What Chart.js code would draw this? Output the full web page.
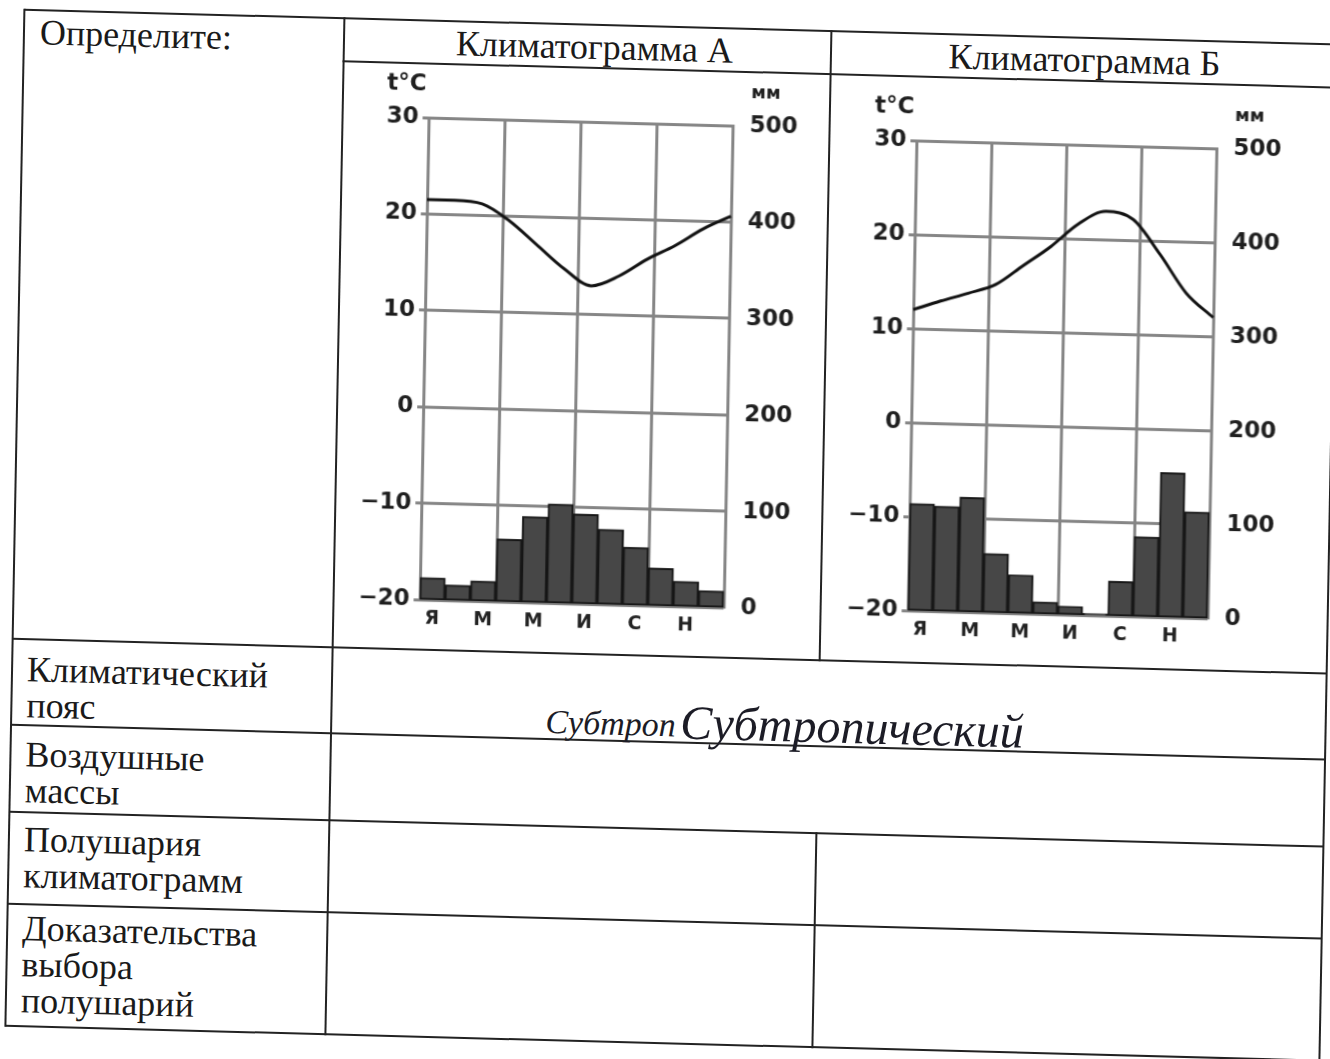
<!DOCTYPE html>
<html lang="ru">
<head>
<meta charset="utf-8">
<title>Климатограммы А и Б</title>
<script src="https://cdn.jsdelivr.net/npm/chart.js@4.4.1/dist/chart.umd.min.js"></script>
<style>
  html, body { margin: 0; padding: 0; background: #fff; }
  body { width: 1330px; height: 1059px; overflow: hidden; position: relative; }
  /* la feuille scannée est légèrement de travers */
  .feuille { position: absolute; left: 0; top: 0; width: 1330px; height: 1059px;
    transform: matrix(1, 0.0265, -0.0187, 1, 0, 0); transform-origin: 665px 530px;
    font-family: "Liberation Serif", "Times New Roman", serif; color: #1a1a1a; }
  .ligne-h { position: absolute; height: 2px; background: #222; }
  .ligne-v { position: absolute; width: 2px; background: #222; }
  .texte { position: absolute; font-size: 36px; line-height: 36px; white-space: nowrap; }
  .titre { position: absolute; font-size: 36px; line-height: 36px; text-align: center; white-space: nowrap; }
  .manuscrit { position: absolute; font-style: italic; white-space: nowrap; color: #1c1c26; line-height: 1; }
  canvas { position: absolute; }
</style>
</head>
<body>
<div class="feuille">
  <!-- cadre du tableau -->
  <div class="ligne-h" style="left:15px; top:26px; width:1314px;"></div>
  <div class="ligne-h" style="left:15px; top:1042px; width:1314px;"></div>
  <div class="ligne-v" style="left:14px; top:26px; height:1018px;"></div>
  <div class="ligne-v" style="left:1328px; top:26px; height:1018px;"></div>
  <div class="ligne-v" style="left:334px; top:26px; height:1018px;"></div>
  <div class="ligne-v" style="left:821px; top:26px; height:631px;"></div>
  <div class="ligne-v" style="left:821px; top:828px; height:216px;"></div>
  <div class="ligne-h" style="left:334px; top:69px; width:995px;"></div>
  <div class="ligne-h" style="left:15px; top:655px; width:1314px;"></div>
  <div class="ligne-h" style="left:15px; top:741px; width:1314px;"></div>
  <div class="ligne-h" style="left:15px; top:828px; width:1314px;"></div>
  <div class="ligne-h" style="left:15px; top:920px; width:1314px;"></div>

  <!-- textes imprimés -->
  <div class="texte" style="left:31px; top:31px;">Определите:</div>
  <div class="titre" style="left:349px; top:31px; width:473px;">Климатограмма А</div>
  <div class="titre" style="left:822px; top:31px; width:507px;">Климатограмма Б</div>
  <div class="texte" style="left:30px; top:668px;">Климатический<br>пояс</div>
  <div class="texte" style="left:30px; top:753px;">Воздушные<br>массы</div>
  <div class="texte" style="left:30px; top:838px;">Полушария<br>климатограмм</div>
  <div class="texte" style="left:30px; top:927px;">Доказательства<br>выбора<br>полушарий</div>

  <!-- réponse écrite à la main -->
  <div class="manuscrit" style="left:549px; top:708px; font-size:34px;">Субтроп</div>
  <div class="manuscrit" style="left:684px; top:698px; font-size:48px;">Субтропический</div>

  <canvas id="climatogramme-a" width="434" height="562" style="left:361px; top:74px;"></canvas>
  <canvas id="climatogramme-b" width="430" height="560" style="left:849px; top:74px;"></canvas>
</div>

<script>
// Étiquettes des mois (une sur deux)
const moisEtiquettes = ["Я", "", "М", "", "М", "", "И", "", "С", "", "Н", ""];

// Graduations des deux axes
const graduationsTemperature = [-20, -10, 0, 10, 20, 30];
const graduationsPrecipitations = [0, 100, 200, 300, 400, 500];

// Climatogramme A : température (°C) et précipitations (mm)
const temperaturesA = [21.5, 21.5, 21.2, 19.5, 17.1, 14.7, 13.0, 14.1, 15.9, 17.4, 19.2, 20.6];
const precipitationsA = [23, 16, 21, 65, 89, 103, 93, 78, 60, 39, 26, 17];

// Climatogramme B
const temperaturesB = [12.0, 13.0, 13.9, 14.9, 17.0, 19.1, 21.6, 23.0, 22.2, 18.6, 14.5, 12.0];
const precipitationsB = [114, 112, 122, 63, 41, 13, 9, 2, 37, 85, 154, 113];

const grisGrille = "#858585";
const policeAxes = { family: "DejaVu Sans", weight: "bold", size: 23 };
const largeurAxeGauche = 60;
const largeurAxeDroit = 70;

Chart.defaults.font.family = "DejaVu Sans";

// Petit plugin qui écrit "t°C" et "мм" au-dessus des axes
const unitesAxes = {
  id: "unitesAxes",
  afterDraw(chart) {
    const ctx = chart.ctx;
    const zone = chart.chartArea;
    ctx.save();
    ctx.fillStyle = "#1e1e1e";
    ctx.textBaseline = "middle";
    ctx.textAlign = "left";
    ctx.font = "bold 23px 'DejaVu Sans'";
    ctx.fillText("t°C", zone.left - 42, zone.top - 33);
    ctx.font = "bold 18px 'DejaVu Sans'";
    ctx.fillText("мм", zone.right + 18, zone.top - 33);
    ctx.restore();
  }
};

function creerClimatogramme(idCanvas, temperatures, precipitations, margeHaut) {
  const canvas = document.getElementById(idCanvas);
  // largeur d'un mois dans la zone du graphique
  const largeurMois = (canvas.width - largeurAxeGauche - largeurAxeDroit) / moisEtiquettes.length;

  const data = {
    labels: moisEtiquettes,
    datasets: [{
      type: "line",
      label: "Температура",
      data: temperatures,
      xAxisID: "x2",
      yAxisID: "y",
      borderColor: "#111",
      borderWidth: 3,
      pointRadius: 0,
      cubicInterpolationMode: "monotone",
      fill: false,
      order: 0
    }, {
      type: "bar",
      label: "Осадки",
      data: precipitations,
      xAxisID: "x",
      yAxisID: "y2",
      backgroundColor: "#474747",
      borderColor: "#161616",
      borderWidth: 2,
      borderSkipped: false,
      grouped: false,
      barThickness: largeurMois,
      order: 1
    }]
  };

  const config = {
    type: "bar",
    data: data,
    plugins: [unitesAxes],
    options: {
      responsive: false,
      animation: false,
      layout: { padding: { top: margeHaut, left: 0, right: 0, bottom: 0 } },
      plugins: { legend: { display: false }, tooltip: { enabled: false } },
      scales: {
        x: {
          type: "category",
          offset: true,
          afterFit: (echelle) => { echelle.height = 30; },
          grid: {
            offset: true,
            drawTicks: false,
            lineWidth: 3,
            color: (c) => (c.index % 3 === 0 ? grisGrille : "rgba(0,0,0,0)")
          },
          border: { display: false },
          ticks: {
            autoSkip: false,
            maxRotation: 0,
            padding: 8,
            color: "#222",
            font: { family: "DejaVu Sans", weight: "bold", size: 19 }
          }
        },
        x2: { type: "category", offset: false, display: false },
        y: {
          position: "left",
          min: graduationsTemperature[0],
          max: graduationsTemperature[graduationsTemperature.length - 1],
          afterFit: (echelle) => { echelle.width = largeurAxeGauche; },
          ticks: {
            stepSize: graduationsTemperature[1] - graduationsTemperature[0],
            padding: 4,
            color: "#1e1e1e",
            font: policeAxes,
            callback: (v) => String(v).replace("-", "−")
          },
          grid: { color: grisGrille, lineWidth: 3, tickLength: 6 },
          border: { color: grisGrille, width: 3 }
        },
        y2: {
          position: "right",
          min: graduationsPrecipitations[0],
          max: graduationsPrecipitations[graduationsPrecipitations.length - 1],
          afterFit: (echelle) => { echelle.width = largeurAxeDroit; },
          ticks: {
            stepSize: graduationsPrecipitations[1] - graduationsPrecipitations[0],
            padding: 9,
            color: "#1e1e1e",
            font: policeAxes
          },
          grid: { display: false },
          border: { color: grisGrille, width: 3 }
        }
      }
    }
  };

  return new Chart(canvas, config);
}

creerClimatogramme("climatogramme-a", temperaturesA, precipitationsA, 50);
creerClimatogramme("climatogramme-b", temperaturesB, precipitationsB, 60);
</script>
</body>
</html>
